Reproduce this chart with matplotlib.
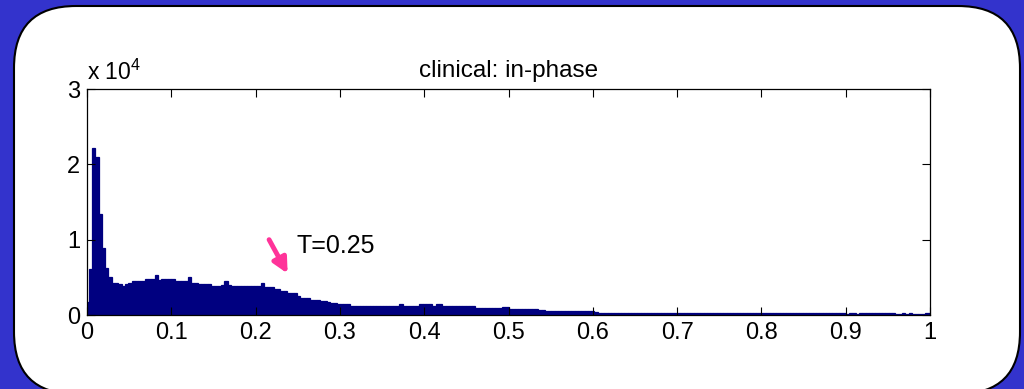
import numpy as np
import matplotlib
matplotlib.use('Agg')
import matplotlib.pyplot as plt
from matplotlib.patches import FancyBboxPatch

plt.rcParams['font.family'] = ['Liberation Sans', 'DejaVu Sans']
plt.rcParams['mathtext.fontset'] = 'custom'
plt.rcParams['mathtext.rm'] = 'Liberation Sans'
plt.rcParams['mathtext.default'] = 'regular'

# histograma (256 bins, contagens em unidades de 10^4)
contagens = [
    0.17, 0.61, 2.22, 2.10, 1.34, 0.89, 0.63, 0.51, 0.43, 0.43, 0.41, 0.385, 0.41, 0.43, 0.45, 0.45,
    0.45, 0.45, 0.48, 0.48, 0.48, 0.53, 0.46, 0.48, 0.48, 0.48, 0.48, 0.45, 0.45, 0.45, 0.45, 0.51,
    0.425, 0.425, 0.41, 0.41, 0.41, 0.41, 0.385, 0.385, 0.385, 0.395, 0.45, 0.395, 0.38, 0.38, 0.38, 0.38,
    0.38, 0.38, 0.38, 0.38, 0.38, 0.425, 0.37, 0.37, 0.37, 0.35, 0.345, 0.32, 0.32, 0.29, 0.29, 0.29,
    0.255, 0.22, 0.22, 0.22, 0.195, 0.195, 0.195, 0.18, 0.18, 0.17, 0.16, 0.16, 0.15, 0.15, 0.15, 0.15,
    0.125, 0.125, 0.125, 0.125, 0.125, 0.125, 0.125, 0.125, 0.125, 0.125, 0.125, 0.125, 0.125, 0.125, 0.125, 0.145,
    0.125, 0.125, 0.125, 0.125, 0.125, 0.145, 0.145, 0.145, 0.145, 0.125, 0.14, 0.14, 0.125, 0.125, 0.125, 0.125,
    0.125, 0.125, 0.125, 0.125, 0.125, 0.125, 0.097, 0.097, 0.097, 0.097, 0.097, 0.097, 0.097, 0.097, 0.11, 0.11,
    0.075, 0.075, 0.075, 0.075, 0.075, 0.075, 0.075, 0.075, 0.075, 0.06, 0.07, 0.048, 0.048, 0.048, 0.048, 0.048,
    0.048, 0.048, 0.048, 0.048, 0.048, 0.048, 0.048, 0.048, 0.048, 0.048, 0.045, 0.027, 0.027, 0.027, 0.027, 0.027,
    0.027, 0.027, 0.027, 0.027, 0.027, 0.027, 0.027, 0.027, 0.027, 0.027, 0.027, 0.027, 0.027, 0.027, 0.027, 0.027,
    0.027, 0.027, 0.027, 0.027, 0.027, 0.027, 0.027, 0.027, 0.027, 0.027, 0.027, 0.027, 0.027, 0.027, 0.027, 0.027,
    0.027, 0.027, 0.027, 0.027, 0.027, 0.027, 0.027, 0.027, 0.027, 0.027, 0.027, 0.027, 0.027, 0.027, 0.027, 0.027,
    0.027, 0.027, 0.027, 0.027, 0.027, 0.027, 0.027, 0.027, 0.027, 0.027, 0.027, 0.027, 0.027, 0.027, 0.027, 0.027,
    0.027, 0.027, 0.027, 0.027, 0.027, 0.027, 0.01, 0.027, 0.027, 0.01, 0.027, 0.027, 0.027, 0.027, 0.027, 0.027,
    0.027, 0.027, 0.027, 0.027, 0.027, 0.01, 0.01, 0.027, 0.01, 0.027, 0.01, 0.01, 0.01, 0.01, 0.027, 0.027,
]

x_ticks = [0, 0.1, 0.2, 0.3, 0.4, 0.5, 0.6, 0.7, 0.8, 0.9, 1]
x_labels = ['0', '0.1', '0.2', '0.3', '0.4', '0.5', '0.6', '0.7', '0.8', '0.9', '1']
y_ticks = [0, 1, 2, 3]
y_labels = ['0', '1', '2', '3']

titulo = 'clinical: in-phase'
limiar_texto = 'T=0.25'

azul_fundo = '#3333cc'
azul_barras = '#000080'
rosa = '#ff3399'

fig = plt.figure(figsize=(10.24, 3.89), dpi=100, facecolor=azul_fundo)

# painel branco arredondado (atrás do gráfico)
painel = FancyBboxPatch((0.14, -0.05), 10.06, 3.88,
                        boxstyle='round,pad=0,rounding_size=0.62',
                        transform=fig.dpi_scale_trans,
                        facecolor='white', edgecolor='black', linewidth=1.5,
                        zorder=-1)
fig.patches.append(painel)

ax = fig.add_axes([87 / 1024, (389 - 315) / 389, (930 - 87) / 1024, (315 - 89) / 389])
ax.set_zorder(1)

n = len(contagens)
centros = np.arange(n) / (n - 1)
ax.bar(centros, contagens, width=1 / (n - 1), align='center',
       color=azul_barras, edgecolor=azul_barras, linewidth=0.9)

ax.set_xlim(0, 1)
ax.set_ylim(0, 3)
ax.set_xticks(x_ticks)
ax.set_xticklabels(x_labels)
ax.set_yticks(y_ticks)
ax.set_yticklabels(y_labels)
ax.tick_params(direction='in', length=6, width=0.8, top=True, right=True,
               labelsize=17, pad=5)
for s in ax.spines.values():
    s.set_linewidth(0.9)

ax.set_title(titulo, fontsize=17.5, pad=9)
ax.text(0, 1.04, r'x 10$^{4}$', transform=ax.transAxes, fontsize=16.5,
        ha='left', va='baseline')

# seta do limiar
ax.annotate('', xy=(0.238, 0.55), xytext=(0.216, 1.0),
            arrowprops=dict(arrowstyle='-|>', color=rosa, lw=3.5,
                            mutation_scale=22, shrinkA=0, shrinkB=0))
ax.text(0.248, 0.92, limiar_texto, fontsize=18, ha='left', va='center')

fig.savefig('out.png', dpi=100, facecolor=azul_fundo)
